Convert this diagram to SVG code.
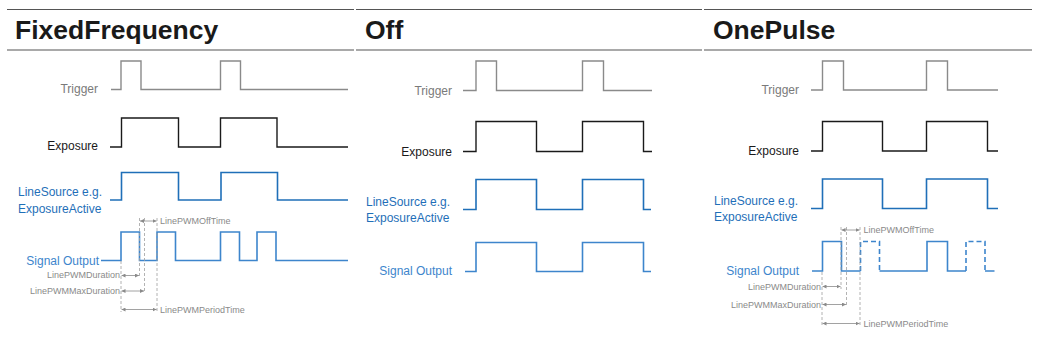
<svg xmlns="http://www.w3.org/2000/svg" width="1039" height="349" viewBox="0 0 1039 349">
<style>
.title{font-family:"Liberation Sans",Arial,sans-serif;font-weight:bold;font-size:26.5px;fill:#1a1a1a}
.lbl{font-family:"Liberation Sans",Arial,sans-serif;font-size:12px}
.lt{fill:#7a7a7a}.le{fill:#1a1a1a}.ls{fill:#1f6fb8}.lo{fill:#3d85cc}
.hdr{stroke:#555;stroke-width:1.2;fill:none}
.w{fill:none;stroke-width:1.4}
.trig{stroke:#8a8a8a}.exp{stroke:#1a1a1a}.src{stroke:#1f6fb8;stroke-width:1.6}.sig{stroke:#3d85cc;stroke-width:1.6}
.dsh{stroke-dasharray:5 3}
.vd{stroke:#a0a0a0;stroke-width:0.8;stroke-dasharray:3 2;fill:none}
.ar{stroke:#8a8a8a;stroke-width:0.8;fill:none;marker-start:url(#ah);marker-end:url(#ah)}
.an{font-family:"Liberation Sans",Arial,sans-serif;font-size:9px;fill:#8a8a8a}
</style>
<defs>
<marker id="ah" viewBox="0 0 6 6" refX="6" refY="3" markerWidth="4" markerHeight="4" orient="auto-start-reverse" markerUnits="userSpaceOnUse"><path d="M0,0 L6,3 L0,6 z" fill="#8a8a8a"/></marker>
</defs>
<rect width="1039" height="349" fill="#fff"/>

<g id="headers">
<path class="hdr" d="M7,9.5 H354 M356,9.5 H702 M704,9.5 H1032 M7,50 H354 M356,50 H702 M704,50 H1032"/>
</g>

<g id="panel-fixedfrequency">
<text class="title" x="15" y="39">FixedFrequency</text>
<g id="ff-trigger"><text class="lbl lt" x="98" y="93" text-anchor="end">Trigger</text>
<path class="w trig" d="M111,89.5 H121 V61 H141 V89.5 H220.5 V61 H240.5 V89.5 H348"/></g>
<g id="ff-exposure"><text class="lbl le" x="98" y="150" text-anchor="end">Exposure</text>
<path class="w exp" d="M110,147 H121.5 V118 H178.5 V147 H220.5 V118 H277 V147 H348"/></g>
<g id="ff-linesource"><text class="lbl ls" x="18" y="196">LineSource e.g.</text><text class="lbl ls" x="18" y="213">ExposureActive</text>
<path class="w src" d="M110,200 H121.5 V172.5 H178.5 V200 H221 V172.5 H277.5 V200 H348"/></g>
<g id="ff-signal"><text class="lbl lo" x="99" y="264.5" text-anchor="end">Signal Output</text>
<path class="w sig" d="M101,260.5 H121 V232 H139.5 V260.5 H157 V232 H175.5 V260.5 H220.5 V232 H239.5 V260.5 H257 V232 H276 V260.5 H348"/></g>
<g id="ff-annotations">
<path class="vd" d="M121,261 V312 M139.5,218 V277 M144.5,218 V293 M157,218 V311"/>
<text class="an" x="160" y="224">LinePWMOffTime</text>
<text class="an" x="120" y="278" text-anchor="end">LinePWMDuration</text>
<text class="an" x="120" y="294" text-anchor="end">LinePWMMaxDuration</text>
<text class="an" x="160" y="313">LinePWMPeriodTime</text>
</g>
</g>

<g id="panel-off">
<text class="title" x="365" y="39">Off</text>
<g id="off-trigger"><text class="lbl lt" x="452" y="94.5" text-anchor="end">Trigger</text>
<path class="w trig" d="M463,90.5 H476 V61 H496.5 V90.5 H582.5 V61 H603.5 V90.5 H652"/></g>
<g id="off-exposure"><text class="lbl le" x="452" y="155.5" text-anchor="end">Exposure</text>
<path class="w exp" d="M463,151.5 H476 V121.5 H536.5 V151.5 H582.5 V121.5 H643.5 V151.5 H652"/></g>
<g id="off-linesource"><text class="lbl ls" x="366" y="205.5">LineSource e.g.</text><text class="lbl ls" x="366" y="221.5">ExposureActive</text>
<path class="w src" d="M463,209.5 H476 V179.5 H536.5 V209.5 H582.5 V179.5 H643.5 V209.5 H651"/></g>
<g id="off-signal"><text class="lbl lo" x="452" y="275" text-anchor="end">Signal Output</text>
<path class="w sig" d="M465,271.5 H476 V242.5 H536.5 V271.5 H582.5 V242.5 H643.5 V271.5 H651"/></g>
</g>

<g id="panel-onepulse">
<text class="title" x="713" y="39">OnePulse</text>
<g id="op-trigger"><text class="lbl lt" x="799" y="94" text-anchor="end">Trigger</text>
<path class="w trig" d="M811,90 H822.5 V61 H843.5 V90 H926.5 V61 H947.5 V90 H998"/></g>
<g id="op-exposure"><text class="lbl le" x="799" y="155" text-anchor="end">Exposure</text>
<path class="w exp" d="M811,151 H822.5 V121.5 H882.5 V151 H926.5 V121.5 H987.5 V151 H998"/></g>
<g id="op-linesource"><text class="lbl ls" x="714" y="205">LineSource e.g.</text><text class="lbl ls" x="714" y="221">ExposureActive</text>
<path class="w src" d="M811,208.5 H822.5 V179 H882.5 V208.5 H926.5 V179 H987.5 V208.5 H998"/></g>
<g id="op-signal"><text class="lbl lo" x="799" y="274.5" text-anchor="end">Signal Output</text>
<path class="w sig" d="M812,271 H822.5 V241.5 H841.5 V271 H860.5 M879.5,271 H927 V241.5 H947.5 V271 H966 M985,271 H994.5"/>
<path class="w sig dsh" d="M860.5,271 V241.5 H879.5 V271 M966,271 V241.5 H985 V271"/></g>
<g id="op-annotations">
<path class="vd" d="M822,272 V326 M841,227 V289 M846.5,227 V307 M860,227 V325"/>
<text class="an" x="863.5" y="233">LinePWMOffTime</text>
<text class="an" x="821" y="290" text-anchor="end">LinePWMDuration</text>
<text class="an" x="821" y="308" text-anchor="end">LinePWMMaxDuration</text>
<text class="an" x="863.5" y="327">LinePWMPeriodTime</text>
</g>
</g>

<g id="connectors">
<path class="ar" d="M140,221 H156.5"/>
<path class="ar" d="M121.5,275.5 H139"/>
<path class="ar" d="M121.5,291 H144"/>
<path class="ar" d="M121.5,309.5 H156.5"/>
<path class="ar" d="M841.5,230 H859.5"/>
<path class="ar" d="M822.5,286.5 H840.5"/>
<path class="ar" d="M822.5,304.5 H846"/>
<path class="ar" d="M822.5,323.5 H859.5"/>
</g>
</svg>
